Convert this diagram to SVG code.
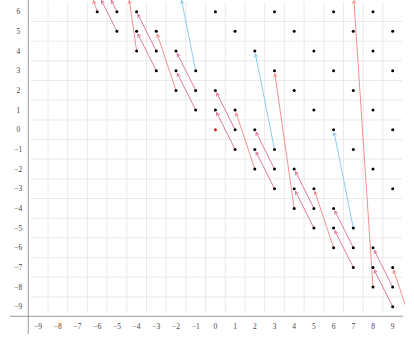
<svg xmlns="http://www.w3.org/2000/svg" width="414" height="364" viewBox="0 0 414 364">
<style>
.grid line{stroke:#e4e4e4;stroke-width:0.8}
.axis{stroke:#999;stroke-width:1;fill:none}
.lbl{font-family:"Liberation Serif","DejaVu Serif",serif;font-size:7.5px;fill:#444;text-anchor:middle}
.dot{fill:#000}
.red{fill:#ee1111}
.pk{stroke:#dc6e9a;stroke-width:0.9;fill:none;marker-end:url(#mpk)}
.sa{stroke:#f88282;stroke-width:0.9;fill:none;marker-end:url(#msa)}
.bl{stroke:#7cc8ec;stroke-width:0.9;fill:none;marker-end:url(#mbl)}
</style>
<defs>
<marker id="mpk" markerUnits="userSpaceOnUse" viewBox="-4 -3 5 6" refX="0" refY="0" markerWidth="5" markerHeight="6" orient="auto"><path d="M-3.2,-1.7 L0,0 L-3.2,1.7" stroke="#dc6e9a" stroke-width="0.9" fill="none"/></marker>
<marker id="msa" markerUnits="userSpaceOnUse" viewBox="-4 -3 5 6" refX="0" refY="0" markerWidth="5" markerHeight="6" orient="auto"><path d="M-3.2,-1.7 L0,0 L-3.2,1.7" stroke="#f88282" stroke-width="0.9" fill="none"/></marker>
<marker id="mbl" markerUnits="userSpaceOnUse" viewBox="-4 -3 5 6" refX="0" refY="0" markerWidth="5" markerHeight="6" orient="auto"><path d="M-3.2,-1.7 L0,0 L-3.2,1.7" stroke="#7cc8ec" stroke-width="0.9" fill="none"/></marker>
<clipPath id="plot"><rect x="28" y="-10" width="377" height="326"/></clipPath>
</defs>
<rect width="414" height="364" fill="#fff"/>
<g class="grid">
<line x1="48" y1="2" x2="48" y2="313"/>
<line x1="67.7" y1="2" x2="67.7" y2="313"/>
<line x1="87.4" y1="2" x2="87.4" y2="313"/>
<line x1="107.1" y1="2" x2="107.1" y2="313"/>
<line x1="126.8" y1="2" x2="126.8" y2="313"/>
<line x1="146.5" y1="2" x2="146.5" y2="313"/>
<line x1="166.2" y1="2" x2="166.2" y2="313"/>
<line x1="185.9" y1="2" x2="185.9" y2="313"/>
<line x1="205.6" y1="2" x2="205.6" y2="313"/>
<line x1="225.3" y1="2" x2="225.3" y2="313"/>
<line x1="245" y1="2" x2="245" y2="313"/>
<line x1="264.7" y1="2" x2="264.7" y2="313"/>
<line x1="284.4" y1="2" x2="284.4" y2="313"/>
<line x1="304.1" y1="2" x2="304.1" y2="313"/>
<line x1="323.8" y1="2" x2="323.8" y2="313"/>
<line x1="343.5" y1="2" x2="343.5" y2="313"/>
<line x1="363.2" y1="2" x2="363.2" y2="313"/>
<line x1="382.9" y1="2" x2="382.9" y2="313"/>
<line x1="30.7" y1="21.5" x2="402" y2="21.5"/>
<line x1="30.7" y1="41.2" x2="402" y2="41.2"/>
<line x1="30.7" y1="60.8" x2="402" y2="60.8"/>
<line x1="30.7" y1="80.5" x2="402" y2="80.5"/>
<line x1="30.7" y1="100.2" x2="402" y2="100.2"/>
<line x1="30.7" y1="119.9" x2="402" y2="119.9"/>
<line x1="30.7" y1="139.5" x2="402" y2="139.5"/>
<line x1="30.7" y1="159.2" x2="402" y2="159.2"/>
<line x1="30.7" y1="178.9" x2="402" y2="178.9"/>
<line x1="30.7" y1="198.5" x2="402" y2="198.5"/>
<line x1="30.7" y1="218.2" x2="402" y2="218.2"/>
<line x1="30.7" y1="237.9" x2="402" y2="237.9"/>
<line x1="30.7" y1="257.6" x2="402" y2="257.6"/>
<line x1="30.7" y1="277.2" x2="402" y2="277.2"/>
<line x1="30.7" y1="296.9" x2="402" y2="296.9"/>
</g>
<g id="axes">
<line class="axis" x1="28.3" y1="0" x2="28.3" y2="334"/>
<line class="axis" x1="10" y1="316.3" x2="403" y2="316.3"/>
</g>
<g id="y-labels" class="lbl">
<text x="18.3" y="14.2">6</text>
<text x="18.3" y="33.9">5</text>
<text x="18.3" y="53.5">4</text>
<text x="18.3" y="73.2">3</text>
<text x="18.3" y="92.9">2</text>
<text x="18.3" y="112.5">1</text>
<text x="18.3" y="132.2">0</text>
<text x="18.3" y="151.9">−1</text>
<text x="18.3" y="171.5">−2</text>
<text x="18.3" y="191.2">−3</text>
<text x="18.3" y="210.9">−4</text>
<text x="18.3" y="230.6">−5</text>
<text x="18.3" y="250.2">−6</text>
<text x="18.3" y="269.9">−7</text>
<text x="18.3" y="289.6">−8</text>
<text x="18.3" y="309.2">−9</text>
</g>
<g id="x-labels" class="lbl">
<text x="38.1" y="329.3">−9</text>
<text x="57.8" y="329.3">−8</text>
<text x="77.5" y="329.3">−7</text>
<text x="97.2" y="329.3">−6</text>
<text x="116.9" y="329.3">−5</text>
<text x="136.6" y="329.3">−4</text>
<text x="156.3" y="329.3">−3</text>
<text x="176" y="329.3">−2</text>
<text x="195.7" y="329.3">−1</text>
<text x="215.4" y="329.3">0</text>
<text x="235.1" y="329.3">1</text>
<text x="254.8" y="329.3">2</text>
<text x="274.5" y="329.3">3</text>
<text x="294.2" y="329.3">4</text>
<text x="313.9" y="329.3">5</text>
<text x="333.6" y="329.3">6</text>
<text x="353.3" y="329.3">7</text>
<text x="373" y="329.3">8</text>
<text x="392.7" y="329.3">9</text>
</g>
<g id="connectors" clip-path="url(#plot)">
<line class="pk" x1="235.1" y1="149.4" x2="216.7" y2="112.7"/>
<line class="pk" x1="274.5" y1="188.7" x2="256.1" y2="152.1"/>
<line class="pk" x1="313.9" y1="228.1" x2="295.5" y2="191.4"/>
<line class="pk" x1="353.3" y1="267.4" x2="334.9" y2="230.8"/>
<line class="pk" x1="392.7" y1="306.7" x2="374.3" y2="270.1"/>
<line class="pk" x1="195.7" y1="110" x2="177.3" y2="73.4"/>
<line class="pk" x1="156.3" y1="70.7" x2="137.9" y2="34"/>
<line class="pk" x1="116.9" y1="31.35" x2="101.4" y2="0.5"/>
<line class="pk" x1="235.1" y1="129.7" x2="216.7" y2="93"/>
<line class="pk" x1="274.5" y1="169" x2="256.1" y2="132.4"/>
<line class="pk" x1="313.9" y1="208.4" x2="295.5" y2="171.7"/>
<line class="pk" x1="353.3" y1="247.7" x2="334.9" y2="211.1"/>
<line class="pk" x1="392.7" y1="287.1" x2="374.3" y2="250.4"/>
<line class="pk" x1="195.7" y1="90.4" x2="177.3" y2="53.7"/>
<line class="pk" x1="156.3" y1="51" x2="137.9" y2="14.4"/>
<line class="pk" x1="116.9" y1="11.7" x2="111.3" y2="0.5"/>
<line class="sa" x1="97.2" y1="11.7" x2="93.5" y2="0.5"/>
<line class="sa" x1="136.6" y1="51" x2="129.4" y2="0.5"/>
<line class="sa" x1="373" y1="287.1" x2="353.9" y2="0.5"/>
<line class="sa" x1="254.8" y1="169" x2="236.05" y2="112.85"/>
<line class="sa" x1="333.6" y1="247.7" x2="314.85" y2="191.55"/>
<line class="sa" x1="176" y1="90.4" x2="157.25" y2="34.2"/>
<line class="sa" x1="294.2" y1="208.4" x2="274.9" y2="73.7"/>
<line class="sa" x1="412.4" y1="326.4" x2="393.65" y2="270.25"/>
<line class="bl" x1="195.7" y1="70.7" x2="181.65" y2="0.5"/>
<line class="bl" x1="274.5" y1="149.4" x2="255.4" y2="53.9"/>
<line class="bl" x1="353.3" y1="228.1" x2="334.2" y2="132.6"/>
</g>
<g id="points">
<circle class="dot" cx="97.2" cy="11.7" r="1.5"/>
<circle class="dot" cx="116.9" cy="11.7" r="1.5"/>
<circle class="dot" cx="136.6" cy="11.7" r="1.5"/>
<circle class="dot" cx="215.4" cy="11.7" r="1.5"/>
<circle class="dot" cx="274.5" cy="11.7" r="1.5"/>
<circle class="dot" cx="333.6" cy="11.7" r="1.5"/>
<circle class="dot" cx="373" cy="11.7" r="1.5"/>
<circle class="dot" cx="116.9" cy="31.35" r="1.5"/>
<circle class="dot" cx="136.6" cy="31.35" r="1.5"/>
<circle class="dot" cx="156.3" cy="31.35" r="1.5"/>
<circle class="dot" cx="235.1" cy="31.35" r="1.5"/>
<circle class="dot" cx="294.2" cy="31.35" r="1.5"/>
<circle class="dot" cx="353.3" cy="31.35" r="1.5"/>
<circle class="dot" cx="392.7" cy="31.35" r="1.5"/>
<circle class="dot" cx="136.6" cy="51" r="1.5"/>
<circle class="dot" cx="156.3" cy="51" r="1.5"/>
<circle class="dot" cx="176" cy="51" r="1.5"/>
<circle class="dot" cx="254.8" cy="51" r="1.5"/>
<circle class="dot" cx="313.9" cy="51" r="1.5"/>
<circle class="dot" cx="373" cy="51" r="1.5"/>
<circle class="dot" cx="156.3" cy="70.7" r="1.5"/>
<circle class="dot" cx="176" cy="70.7" r="1.5"/>
<circle class="dot" cx="195.7" cy="70.7" r="1.5"/>
<circle class="dot" cx="274.5" cy="70.7" r="1.5"/>
<circle class="dot" cx="333.6" cy="70.7" r="1.5"/>
<circle class="dot" cx="392.7" cy="70.7" r="1.5"/>
<circle class="dot" cx="176" cy="90.4" r="1.5"/>
<circle class="dot" cx="195.7" cy="90.4" r="1.5"/>
<circle class="dot" cx="215.4" cy="90.4" r="1.5"/>
<circle class="dot" cx="294.2" cy="90.4" r="1.5"/>
<circle class="dot" cx="353.3" cy="90.4" r="1.5"/>
<circle class="dot" cx="195.7" cy="110" r="1.5"/>
<circle class="dot" cx="215.4" cy="110" r="1.5"/>
<circle class="dot" cx="235.1" cy="110" r="1.5"/>
<circle class="dot" cx="313.9" cy="110" r="1.5"/>
<circle class="dot" cx="373" cy="110" r="1.5"/>
<circle class="red" cx="215.4" cy="129.7" r="1.5"/>
<circle class="dot" cx="235.1" cy="129.7" r="1.5"/>
<circle class="dot" cx="254.8" cy="129.7" r="1.5"/>
<circle class="dot" cx="333.6" cy="129.7" r="1.5"/>
<circle class="dot" cx="392.7" cy="129.7" r="1.5"/>
<circle class="dot" cx="235.1" cy="149.4" r="1.5"/>
<circle class="dot" cx="254.8" cy="149.4" r="1.5"/>
<circle class="dot" cx="274.5" cy="149.4" r="1.5"/>
<circle class="dot" cx="353.3" cy="149.4" r="1.5"/>
<circle class="dot" cx="254.8" cy="169" r="1.5"/>
<circle class="dot" cx="274.5" cy="169" r="1.5"/>
<circle class="dot" cx="294.2" cy="169" r="1.5"/>
<circle class="dot" cx="373" cy="169" r="1.5"/>
<circle class="dot" cx="274.5" cy="188.7" r="1.5"/>
<circle class="dot" cx="294.2" cy="188.7" r="1.5"/>
<circle class="dot" cx="313.9" cy="188.7" r="1.5"/>
<circle class="dot" cx="392.7" cy="188.7" r="1.5"/>
<circle class="dot" cx="294.2" cy="208.4" r="1.5"/>
<circle class="dot" cx="313.9" cy="208.4" r="1.5"/>
<circle class="dot" cx="333.6" cy="208.4" r="1.5"/>
<circle class="dot" cx="313.9" cy="228.1" r="1.5"/>
<circle class="dot" cx="333.6" cy="228.1" r="1.5"/>
<circle class="dot" cx="353.3" cy="228.1" r="1.5"/>
<circle class="dot" cx="333.6" cy="247.7" r="1.5"/>
<circle class="dot" cx="353.3" cy="247.7" r="1.5"/>
<circle class="dot" cx="373" cy="247.7" r="1.5"/>
<circle class="dot" cx="353.3" cy="267.4" r="1.5"/>
<circle class="dot" cx="373" cy="267.4" r="1.5"/>
<circle class="dot" cx="392.7" cy="267.4" r="1.5"/>
<circle class="dot" cx="373" cy="287.1" r="1.5"/>
<circle class="dot" cx="392.7" cy="287.1" r="1.5"/>
<circle class="dot" cx="392.7" cy="306.7" r="1.5"/>
</g>
</svg>
